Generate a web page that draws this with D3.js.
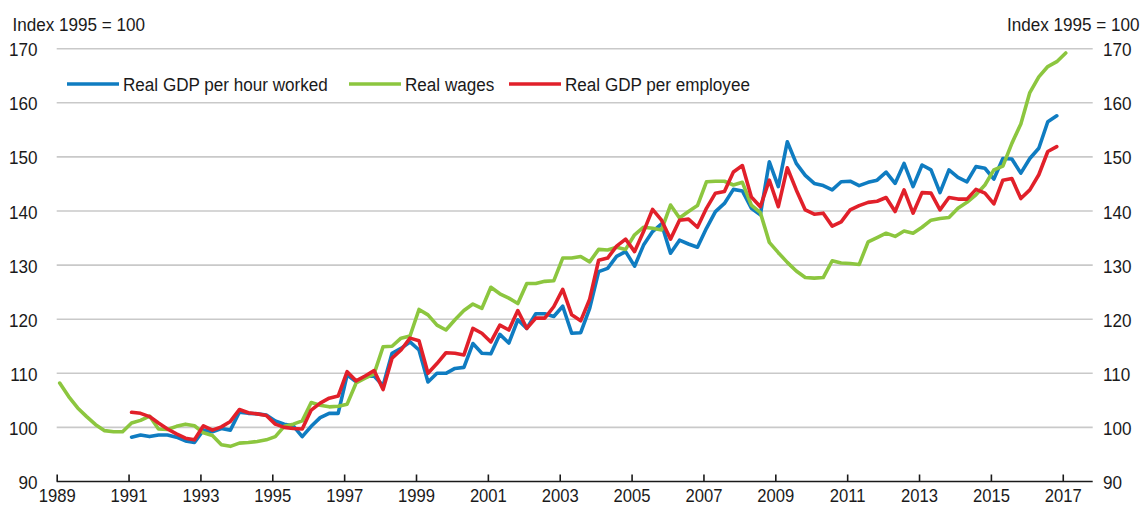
<!DOCTYPE html>
<html>
<head>
<meta charset="utf-8">
<script src="https://cdn.jsdelivr.net/npm/d3@7/dist/d3.min.js"></script>
<style>
  body { margin: 0; background: #fff; }
  text { font-family: "Liberation Sans", Arial, sans-serif; fill: #1a1a1a; }
</style>
</head>
<body>
<svg id="chart" width="1142" height="506"></svg>
<script>
// ---- Data: quarterly indices, 1995 = 100 ----
const seriesNames = ["Real GDP per hour worked", "Real wages", "Real GDP per employee"];
const unitLabel = "Index 1995 = 100";
const yearTicks = [1989, 1991, 1993, 1995, 1997, 1999, 2001, 2003, 2005, 2007, 2009, 2011, 2013, 2015, 2017];
const valueTicks = [90, 100, 110, 120, 130, 140, 150, 160, 170];

// first quarter of each series
const wagesStart = [1989, 1];
const gdpPerHourStart = [1991, 1];
const gdpPerEmployeeStart = [1991, 1];

const realWages = [
  108.2, 105.7, 103.6, 102.0, 100.5, 99.4, 99.2, 99.2,
  100.8, 101.3, 102.1, 99.7, 99.6, 100.2, 100.6, 100.3,
  99.0, 98.5, 96.8, 96.5, 97.1, 97.2, 97.4, 97.7,
  98.3, 100.2, 100.6, 101.2, 104.6, 104.1, 103.8, 103.9,
  104.3, 108.2, 109.1, 109.9, 114.9, 115.0, 116.5, 116.9,
  121.8, 120.8, 118.9, 118.0, 119.9, 121.6, 122.8, 122.0,
  125.9, 124.7, 123.9, 122.9, 126.6, 126.6, 127.0, 127.1,
  131.3, 131.3, 131.6, 130.6, 132.9, 132.8, 133.3, 132.9,
  135.6, 137.0, 136.8, 136.5, 141.1, 138.7, 139.9, 141.0,
  145.4, 145.5, 145.5, 144.8, 145.3, 141.1, 139.7, 134.2,
  132.3, 130.5, 128.9, 127.7, 127.6, 127.7, 130.8, 130.4,
  130.3, 130.1, 134.3, 135.1, 135.9, 135.3, 136.3, 135.9,
  137.0, 138.3, 138.6, 138.8, 140.5, 141.6, 143.0, 144.8,
  147.6, 148.3, 152.5, 156.1, 161.9, 164.8, 166.7, 167.6,
  169.2
];

const gdpPerHour = [
  98.2, 98.6, 98.3, 98.6, 98.6, 98.2, 97.5, 97.2,
  99.5, 99.2, 99.8, 99.5, 102.8, 102.6, 102.5, 102.3,
  101.2, 100.6, 100.3, 98.3, 100.2, 101.8, 102.6, 102.6,
  109.7, 108.4, 109.4, 109.5, 107.7, 113.7, 114.6, 115.8,
  114.3, 108.4, 110.0, 110.0, 110.9, 111.1, 115.5, 113.7,
  113.6, 117.2, 115.6, 119.9, 118.3, 121.0, 121.0, 120.5,
  122.4, 117.4, 117.5, 122.0, 128.8, 129.4, 131.6, 132.5,
  129.8, 133.7, 136.2, 137.6, 132.2, 134.6, 133.9, 133.3,
  136.8, 139.9, 141.4, 144.0, 143.7, 140.5, 139.3, 149.1,
  144.5, 152.8, 148.8, 146.6, 145.1, 144.7, 143.9, 145.4,
  145.5, 144.7, 145.3, 145.7, 147.2, 145.1, 148.8, 144.5,
  148.5, 147.6, 143.4, 147.6, 146.2, 145.4, 148.2, 147.9,
  145.9, 149.7, 149.6, 147.0, 149.7, 151.6, 156.5, 157.6
];

const gdpPerEmployee = [
  102.8, 102.6, 102.0, 100.8, 99.7, 98.8, 98.0, 97.7,
  100.3, 99.5, 100.1, 101.1, 103.3, 102.7, 102.5, 102.2,
  100.6, 100.0, 99.8, 99.7, 103.2, 104.5, 105.4, 105.8,
  110.3, 108.6, 109.5, 110.5, 107.0, 112.8, 114.3, 116.5,
  116.0, 110.0, 111.8, 113.8, 113.7, 113.4, 118.3, 117.4,
  115.8, 118.9, 118.0, 121.6, 118.3, 120.2, 120.2, 122.3,
  125.5, 120.8, 119.7, 123.7, 130.9, 131.3, 133.5, 134.8,
  132.5, 136.2, 140.3, 138.3, 134.8, 138.3, 138.5, 137.0,
  140.5, 143.3, 143.6, 147.2, 148.4, 142.6, 140.8, 145.7,
  140.8, 148.0, 143.9, 140.2, 139.4, 139.6, 137.2, 138.0,
  140.2, 141.0, 141.6, 141.8, 142.5, 139.9, 143.9, 139.6,
  143.4, 143.3, 140.2, 142.5, 142.2, 142.2, 144.0, 143.3,
  141.3, 145.7, 146.0, 142.3, 143.9, 146.7, 151.0, 151.9
];

// ---- Layout ----
const plot = { left: 56.7, right: 1092.7, top: 48.7, bottom: 481.5 };
const colors = { hour: "#0f7cc1", wages: "#8cc63f", employee: "#e1202a" };
const FONT = 19, XSCALE = 0.9;

// Quarterly observations are placed at the middle month of each quarter.
function toTime(start, i) {
  const q = start[1] - 1 + i;
  return start[0] + q / 4 + 1 / 12;
}
function toPoints(start, values) {
  return values.map((v, i) => ({ t: toTime(start, i), v }));
}

const x = d3.scaleLinear().domain([1989, 2017 + 10 / 12]).range([plot.left, plot.right]);
const y = d3.scaleLinear().domain([90, 170]).range([plot.bottom, plot.top]);

const svg = d3.select("#chart");

function label(g, txt, px, py, anchor) {
  return g.append("text")
    .attr("transform", `translate(${px},${py}) scale(${XSCALE},1)`)
    .attr("text-anchor", anchor || "start")
    .style("font-size", FONT + "px")
    .text(txt);
}

// Horizontal gridlines
svg.append("g").selectAll("line")
  .data(valueTicks.filter(v => v > 90))
  .join("line")
  .attr("x1", plot.left).attr("x2", plot.right)
  .attr("y1", d => y(d)).attr("y2", d => y(d))
  .attr("stroke", "#c9c9c9").attr("stroke-width", 1.6);

// Left and right value axes (labels only)
const yLeft = svg.append("g").attr("transform", `translate(37.5,0)`)
  .call(d3.axisLeft(y).tickValues(valueTicks).tickSize(0).tickPadding(0));
yLeft.select(".domain").remove();
yLeft.selectAll("text")
  .attr("x", 0).attr("dy", "0.37em")
  .attr("transform", `scale(${XSCALE},1)`)
  .style("font-size", FONT + "px").attr("fill", "#1a1a1a");

const yRight = svg.append("g").attr("transform", `translate(1103,0)`)
  .call(d3.axisRight(y).tickValues(valueTicks).tickSize(0).tickPadding(0));
yRight.select(".domain").remove();
yRight.selectAll("text")
  .attr("x", 0).attr("dy", "0.37em")
  .attr("transform", `scale(${XSCALE},1)`)
  .style("font-size", FONT + "px").attr("fill", "#1a1a1a");

svg.selectAll(".tick text").attr("font-family", null);

// Bottom time axis with inward ticks
const xAxis = svg.append("g").attr("transform", `translate(0,${plot.bottom})`)
  .call(d3.axisBottom(x).tickValues(yearTicks).tickSize(-7).tickFormat(d3.format("d")));
xAxis.select(".domain").attr("stroke", "#1a1a1a").attr("stroke-width", 1.6)
  .attr("d", `M${plot.left},0H${plot.right}`);
xAxis.selectAll(".tick line").attr("stroke", "#1a1a1a").attr("stroke-width", 1.6);
xAxis.selectAll(".tick text")
  .attr("y", 20.3).attr("dy", 0)
  .attr("transform", `scale(${XSCALE},1)`)
  .style("font-size", "18.5px").attr("fill", "#1a1a1a");

// Unit labels
label(svg, unitLabel, 12.5, 30.5, "start");
label(svg, unitLabel, 1139.5, 30.5, "end");

// Series lines
const line = d3.line().x(d => x(d.t)).y(d => y(d.v));
const series = [
  { name: seriesNames[0], color: colors.hour, pts: toPoints(gdpPerHourStart, gdpPerHour) },
  { name: seriesNames[1], color: colors.wages, pts: toPoints(wagesStart, realWages) },
  { name: seriesNames[2], color: colors.employee, pts: toPoints(gdpPerEmployeeStart, gdpPerEmployee) }
];
svg.append("g").selectAll("path")
  .data(series)
  .join("path")
  .attr("d", d => line(d.pts))
  .attr("fill", "none")
  .attr("stroke", d => d.color)
  .attr("stroke-width", 3.6)
  .attr("stroke-linejoin", "round")
  .attr("stroke-linecap", "round");

// Legend
const legendItems = [
  { s: series[0], x0: 67 },
  { s: series[1], x0: 349 },
  { s: series[2], x0: 509 }
];
const legend = svg.append("g");
legendItems.forEach(it => {
  legend.append("line")
    .attr("x1", it.x0).attr("x2", it.x0 + 52)
    .attr("y1", 84).attr("y2", 84)
    .attr("stroke", it.s.color).attr("stroke-width", 3.6);
  label(legend, it.s.name, it.x0 + 56, 90.5, "start");
});
</script>
</body>
</html>
